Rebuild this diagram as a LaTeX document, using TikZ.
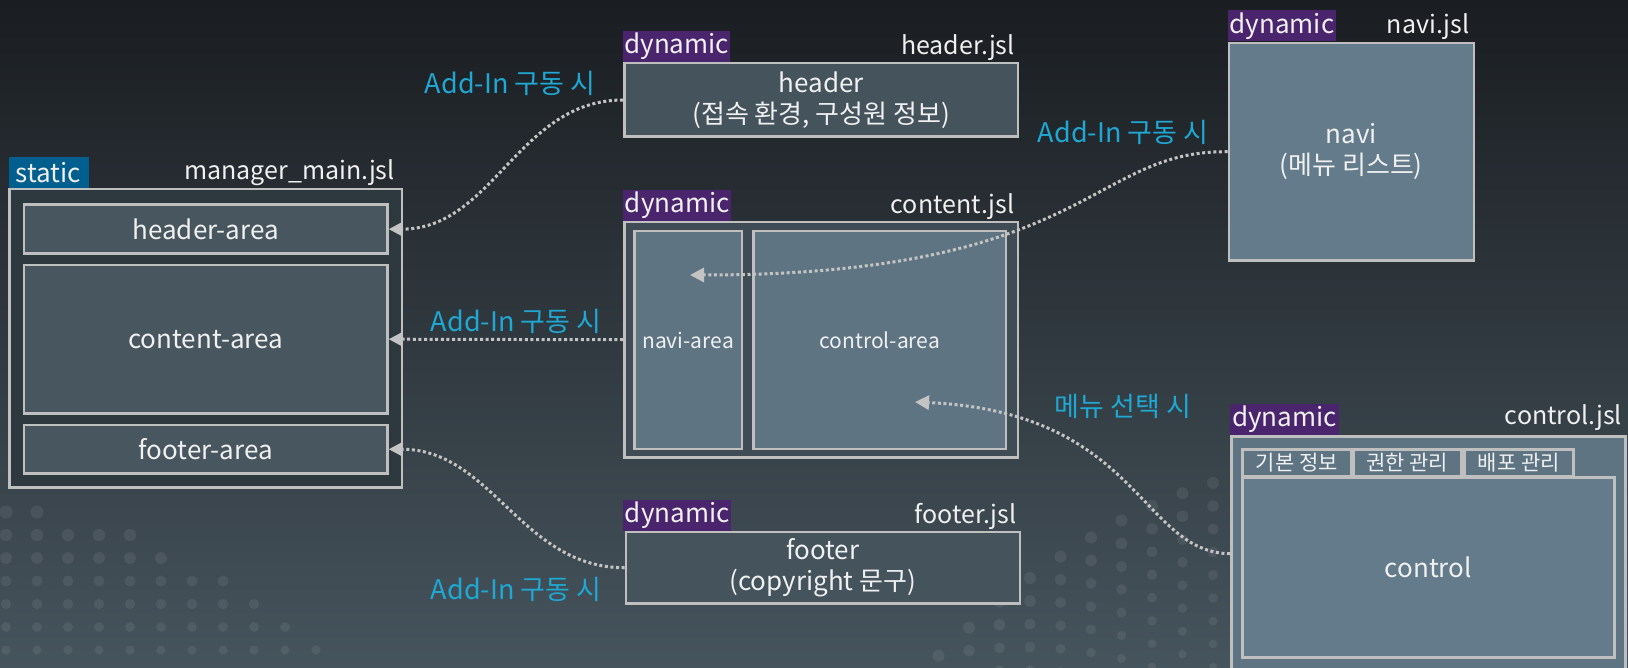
\documentclass[tikz,border=0pt]{standalone}
\usepackage{fontspec}
\setmainfont{Noto Sans CJK KR}
\usetikzlibrary{arrows.meta}

\definecolor{bgtop}{HTML}{1A1D21}
\definecolor{bgbottom}{HTML}{46545D}
\definecolor{boxline}{HTML}{BFBFBF}
\definecolor{linkgray}{HTML}{C4C4C4}
\definecolor{addin}{HTML}{1FA8D3}
\definecolor{staticblue}{HTML}{005F8E}
\definecolor{dynpurple}{HTML}{4B246E}
\definecolor{mgrfill}{HTML}{2E383F}
\definecolor{areafill}{HTML}{48565F}
\definecolor{darkfill}{HTML}{45535D}
\definecolor{contfill}{HTML}{3F4C56}
\definecolor{midfill}{HTML}{5E7483}
\definecolor{lightfill}{HTML}{647B8B}

\begin{document}
\begin{tikzpicture}[x=1pt, y=-1pt,
	every node/.style={text=white!94!black},
	box/.style={draw=boxline, line width=2.5pt, anchor=north west, inner sep=0pt, align=center, font=\fontsize{26}{31}\selectfont},
	tag/.style={anchor=south west, inner sep=0pt, minimum height=31pt, font=\fontsize{26}{31}\selectfont},
	file/.style={anchor=base east, font=\fontsize{25}{30}\selectfont},
	note/.style={text=addin, font=\fontsize{27}{32}\selectfont},
	link/.style={draw=linkgray, line width=3pt, dash pattern=on 3pt off 2.6pt, -{Triangle[width=14pt,length=14pt]}}]

	\useasboundingbox (0,0) rectangle (1628,668);
	\clip (0,0) rectangle (1628,668);
	\shade[top color=bgtop, bottom color=bgbottom] (0,0) rectangle (1628,668);

	\foreach \i in {0,...,11}{
		\foreach \j in {0,...,7}{
			\pgfmathsetmacro\px{6+31*\i}
			\pgfmathsetmacro\py{512+23*\j}
			\pgfmathtruncatemacro\keep{\py >= 508+0.0014*\px*\px}
			\ifnum\keep=1
				\fill[white, opacity=0.07] (\px,\py) circle[radius={6.5pt-0.014pt*(\py-512)}];
			\fi
		}
	}
	\foreach \k in {0,...,9}{
		\pgfmathsetmacro\px{1213-30.5*\k}
		\pgfmathsetmacro\ytop{483+9.15*\k+1.1163*\k*\k}
		\foreach \j in {0,...,8}{
			\fill[white, opacity=0.07] (\px,{\ytop+23*\j}) circle[radius={6pt-0.25pt*\j}];
		}
	}

	\node[box, fill=mgrfill, minimum width=392.5pt, minimum height=298pt] (mgr) at (8.3,188) {};
	\node[tag, fill=staticblue, minimum width=80pt] (mgrtag) at (mgr.north west) {static};
	\node[file] (mgrfile) at ([xshift=-5pt, yshift=8pt]mgr.north east) {manager\_main.jsl};
	\node[box, fill=areafill, minimum width=363.4pt, minimum height=48.8pt] (hdrarea) at (22.8,203.5) {header-area};
	\node[box, fill=areafill, minimum width=363.4pt, minimum height=148.5pt] (contarea) at (22.8,263.7) {content-area};
	\node[box, fill=areafill, minimum width=363.4pt, minimum height=48.8pt] (ftrarea) at (22.8,423.6) {footer-area};

	\node[box, fill=darkfill, minimum width=393.7pt, minimum height=73.5pt] (hdr) at (623,62) {header\\(접속 환경, 구성원 정보)};
	\node[tag, fill=dynpurple, minimum width=107pt] (hdrtag) at (hdr.north west) {dynamic};
	\node[file] (hdrfile) at ([xshift=-1pt, yshift=7pt]hdr.north east) {header.jsl};

	\node[box, fill=contfill, minimum width=393.5pt, minimum height=235pt] (cont) at (623,221) {};
	\node[tag, fill=dynpurple, minimum width=108pt] (conttag) at (cont.north west) {dynamic};
	\node[file] (contfile) at ([xshift=-1pt, yshift=7pt]cont.north east) {content.jsl};
	\node[box, fill=midfill, minimum width=107.7pt, minimum height=217.7pt, font=\fontsize{21}{25}\selectfont] (naviarea) at (633,230) {navi-area};
	\node[box, fill=midfill, minimum width=252.8pt, minimum height=217.7pt, font=\fontsize{21}{25}\selectfont] (ctrlarea) at (752,230) {control-area};

	\node[box, fill=darkfill, minimum width=394pt, minimum height=71.6pt] (ftr) at (624.6,530.7) {footer\\(copyright 문구)};
	\node[tag, fill=dynpurple, minimum width=108pt] (ftrtag) at ([xshift=-1.6pt]ftr.north west) {dynamic};
	\node[file] (ftrfile) at ([xshift=-1pt, yshift=7pt]ftr.north east) {footer.jsl};

	\node[box, fill=lightfill, minimum width=245pt, minimum height=217.6pt] (navi) at (1227.5,41.7) {navi\\(메뉴 리스트)};
	\node[tag, fill=dynpurple, minimum width=108.6pt] (navitag) at (navi.north west) {dynamic};
	\node[file] (navifile) at ([xshift=-2pt, yshift=8pt]navi.north east) {navi.jsl};

	\node[box, fill=midfill, minimum width=394pt, minimum height=235pt] (ctl) at (1230,435) {};
	\node[tag, fill=dynpurple, minimum width=108.7pt] (ctltag) at (ctl.north west) {dynamic};
	\node[file] (ctlfile) at ([xshift=-1pt, yshift=11pt]ctl.north east) {control.jsl};
	\node[box, fill=midfill, minimum width=109pt, minimum height=27pt, font=\fontsize{21}{25}\selectfont] (tabinfo) at (1241,448) {기본 정보};
	\node[box, fill=midfill, minimum width=108pt, minimum height=27pt, font=\fontsize{21}{25}\selectfont] (tabauth) at (1352,448) {권한 관리};
	\node[box, fill=midfill, minimum width=109pt, minimum height=27pt, font=\fontsize{21}{25}\selectfont] (tabdeploy) at (1463,448) {배포 관리};
	\node[box, fill=lightfill, minimum width=372pt, minimum height=180pt] (ctlbody) at (1241,476) {control};

	\node[note] (lblhdr) at (510,83) {Add-In 구동 시};
	\node[note] (lblnavi) at (1123,132) {Add-In 구동 시};
	\node[note] (lblcont) at (516,321) {Add-In 구동 시};
	\node[note] (lblftr) at (516,589) {Add-In 구동 시};
	\node[note] (lblmenu) at (1123,406) {메뉴 선택 시};

	\coordinate (navitip) at (690,275);
	\coordinate (ctltip) at (915,402);

	\draw[link] (hdr.west) to[out=180, in=0] (hdrarea.east);
	\draw[link] (navi.west) .. controls (1090,150) and (1090,275) .. (navitip);
	\draw[link] (cont.west) -- (contarea.east);
	\draw[link] (ftr.west) to[out=180, in=0] (ftrarea.east);
	\draw[link] (ctl.west) .. controls (1140,552) and (1140,412) .. (ctltip);
\end{tikzpicture}
\end{document}
